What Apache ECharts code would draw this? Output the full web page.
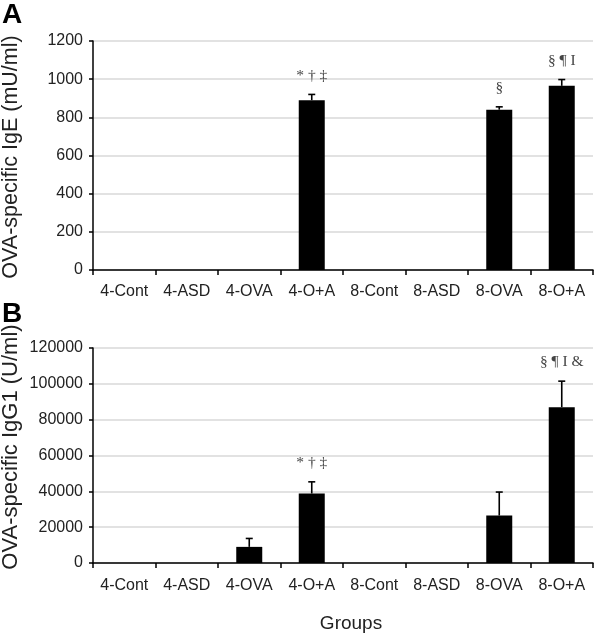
<!DOCTYPE html>
<html>
<head>
<meta charset="utf-8">
<script src="https://cdn.jsdelivr.net/npm/echarts@6/dist/echarts.min.js"></script>
<style>html,body{margin:0;padding:0;background:#fff}#c{width:600px;height:636px}</style>
</head>
<body>
<div id="c"></div>
<script>
const categories = ['4-Cont','4-ASD','4-OVA','4-O+A','8-Cont','8-ASD','8-OVA','8-O+A'];
const igeMean = [0, 0, 0, 890, 0, 0, 840, 965];
const igeErr  = [0, 0, 0, 30, 0, 0, 15, 33];
const igeNote = ['', '', '', '* \u2020 \u2021', '', '', '\u00a7', '\u00a7 \u00b6 I'];
const igg1Mean = [0, 0, 9000, 38800, 0, 0, 26500, 87000];
const igg1Err  = [0, 0, 4700, 6500, 0, 0, 13100, 14500];
const igg1Note = ['', '', '', '* \u2020 \u2021', '', '', '', '\u00a7 \u00b6 I &'];
const igeTicks = [0, 200, 400, 600, 800, 1000, 1200];
const igg1Ticks = [0, 20000, 40000, 60000, 80000, 100000, 120000];

const SANS = '"Liberation Sans", Arial, sans-serif';
const SERIF = '"Liberation Serif", "Times New Roman", serif';

function errRender(params, api) {
  const i = api.value(0), v = api.value(1), e = api.value(2);
  if (!e) return;
  const p0 = api.coord([i, v]);
  const p1 = api.coord([i, v + e]);
  return {
    type: 'group',
    children: [
      {type: 'line', shape: {x1: p0[0], y1: p0[1], x2: p1[0], y2: p1[1]}, style: {stroke: '#000', lineWidth: 1.6}},
      {type: 'line', shape: {x1: p1[0] - 3.5, y1: p1[1], x2: p1[0] + 3.5, y2: p1[1]}, style: {stroke: '#000', lineWidth: 1.6}}
    ]
  };
}
function noteRender(notes) {
  return function (params, api) {
    const i = api.value(0), v = api.value(1), e = api.value(2);
    const t = notes[params.dataIndex];
    if (!t) return;
    const p = api.coord([i, v + e]);
    return {
      type: 'text',
      x: p[0], y: p[1] - 19,
      style: {text: t, fill: '#444', font: '15.5px ' + SERIF, align: 'center', verticalAlign: 'middle'}
    };
  };
}

const catAxis = (gi, margin) => ({
  type: 'category', gridIndex: gi, data: categories,
  axisLine: {lineStyle: {color: '#000', width: 1.5}},
  axisTick: {show: true, length: 5, lineStyle: {color: '#000', width: 1.5}},
  axisLabel: {color: '#222', fontSize: 16, fontFamily: SANS, margin: margin, interval: 0}
});
const valAxis = (gi, ticks) => ({
  type: 'value', gridIndex: gi, min: ticks[0], max: ticks[ticks.length - 1],
  interval: ticks[1] - ticks[0],
  axisLine: {show: true, lineStyle: {color: '#000', width: 1.5}},
  axisTick: {show: true, length: 4, lineStyle: {color: '#000', width: 1.5}},
  axisLabel: {color: '#222', fontSize: 16, fontFamily: SANS, margin: 10, formatter: v => String(v)},
  splitLine: {show: true, lineStyle: {color: '#d9d9d9', width: 1.5}}
});
const pack = (m, e) => m.map((v, i) => [i, v, e[i]]);

const chart = echarts.init(document.getElementById('c'), null, {renderer: 'canvas'});
chart.setOption({
  animation: false,
  backgroundColor: '#fff',
  grid: [
    {left: 93, right: 7, top: 41, height: 229},
    {left: 93, right: 7, top: 348, height: 215}
  ],
  xAxis: [catAxis(0, 14), catAxis(1, 15)],
  yAxis: [valAxis(0, igeTicks), valAxis(1, igg1Ticks)],
  graphic: [
    {type: 'text', left: 2, top: 1, style: {text: 'A', font: 'bold 28px ' + SANS, fill: '#000'}},
    {type: 'text', left: 2, top: 300, style: {text: 'B', font: 'bold 28px ' + SANS, fill: '#000'}},
    {type: 'text', x: 11, y: 157, rotation: Math.PI / 2,
     style: {text: 'OVA-specific IgE (mU/ml)', font: '21.5px ' + SANS, fill: '#222', align: 'center', verticalAlign: 'middle'}},
    {type: 'text', x: 11, y: 447, rotation: Math.PI / 2,
     style: {text: 'OVA-specific IgG1 (U/ml)', font: '22px ' + SANS, fill: '#222', align: 'center', verticalAlign: 'middle'}},
    {type: 'text', x: 351, y: 624,
     style: {text: 'Groups', font: '19px ' + SANS, fill: '#222', align: 'center', verticalAlign: 'middle'}}
  ],
  series: [
    {type: 'bar', xAxisIndex: 0, yAxisIndex: 0, data: igeMean, barWidth: 26, itemStyle: {color: '#000'}},
    {type: 'custom', xAxisIndex: 0, yAxisIndex: 0, data: pack(igeMean, igeErr), renderItem: errRender, z: 5},
    {type: 'custom', xAxisIndex: 0, yAxisIndex: 0, data: pack(igeMean, igeErr), renderItem: noteRender(igeNote), z: 6},
    {type: 'bar', xAxisIndex: 1, yAxisIndex: 1, data: igg1Mean, barWidth: 26, itemStyle: {color: '#000'}},
    {type: 'custom', xAxisIndex: 1, yAxisIndex: 1, data: pack(igg1Mean, igg1Err), renderItem: errRender, z: 5},
    {type: 'custom', xAxisIndex: 1, yAxisIndex: 1, data: pack(igg1Mean, igg1Err), renderItem: noteRender(igg1Note), z: 6}
  ]
});
</script>
</body>
</html>
